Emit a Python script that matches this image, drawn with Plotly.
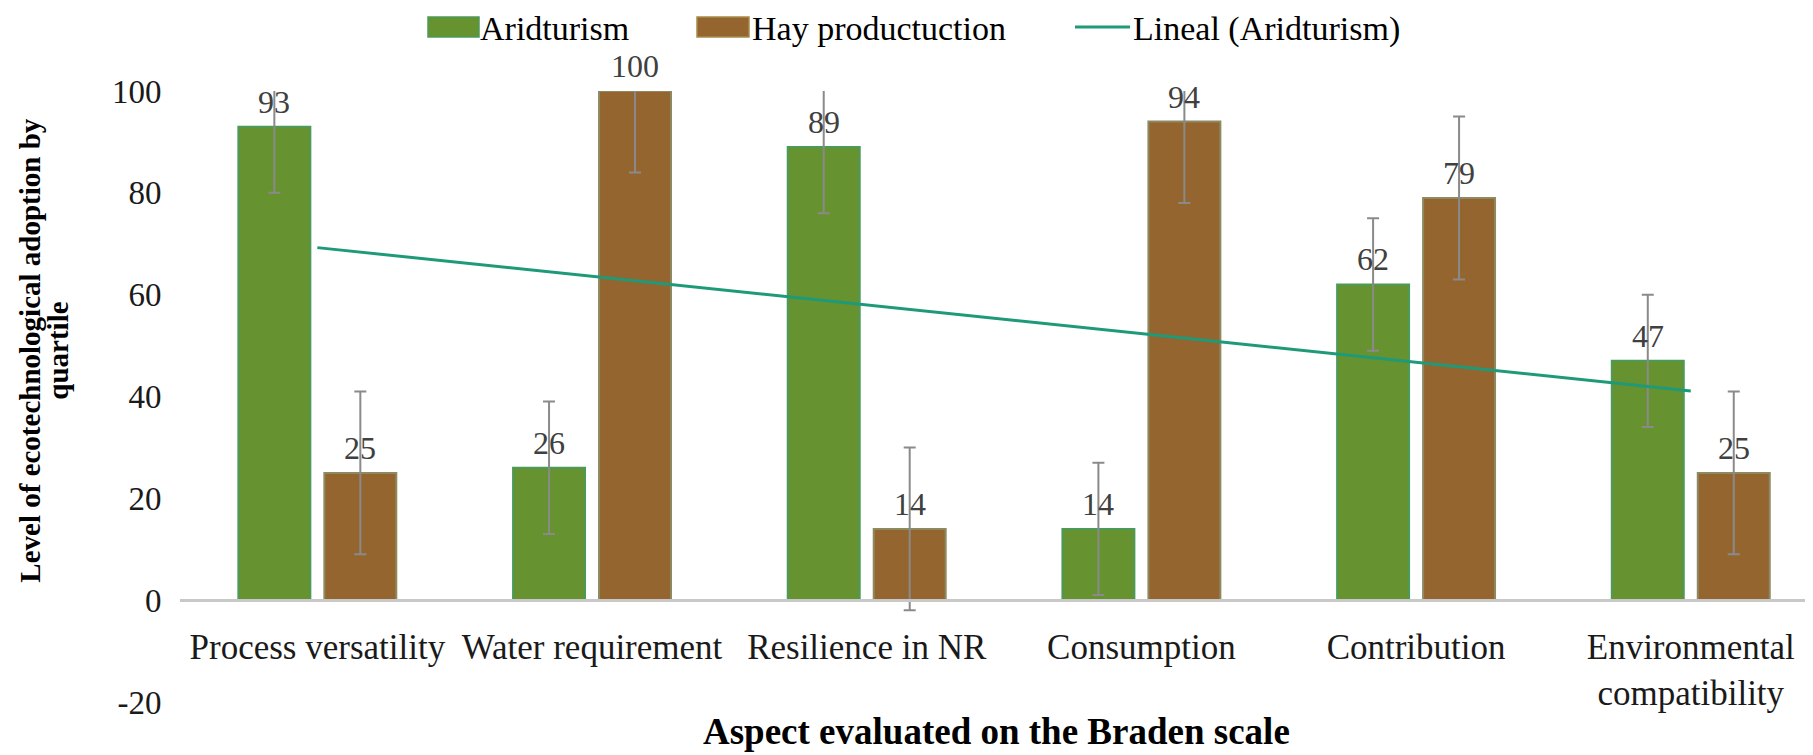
import numpy as np
import plotly.graph_objects as go

# ---------------- data ----------------
categories = ["Process versatility", "Water requirement", "Resilience in NR",
              "Consumption", "Contribution", "Environmental<br>compatibility"]
aridturism = [93, 26, 89, 14, 62, 47]
hay_production = [25, 100, 14, 94, 79, 25]
aridturism_err = [13, 13, 13, 13, 13, 13]
hay_err = [16, 16, 16, 16, 16, 16]
y_ticks = [-20, 0, 20, 40, 60, 80, 100]
y_ticktext = ["-20", "0", "20", "40", "60", "80", "100"]
y_range = [-20, 100]
series_names = ["Aridturism", "Hay productuction", "Lineal (Aridturism)"]

# ---------------- styling ----------------
FONT = "Liberation Serif"
GREEN = "#66922f"
GREEN_EDGE = "#4c9a5a"
BROWN = "#95652f"
BROWN_EDGE = "#8d8a62"
BROWN_OUT = "#a88a4a"
ERR = "#8a8a8a"
TREND = "#1e9a78"

PAGE_OFF = 8                      # default body margin of the html page
W, H = 1813 - PAGE_OFF, 755 - PAGE_OFF
ML, MR, MT, MB = 172, 0, 83, 53
PW, PH = W - ML - MR, H - MT - MB


def px_x(px):  # window pixel -> paper x (layout helper for legend)
    return (px - PAGE_OFF - ML) / PW


def px_y(py):  # window pixel -> paper y
    return (H - MB - (py - PAGE_OFF)) / PH


idx = list(range(len(categories)))
bar_w = 0.262
bar_gap = 0.051
off_a = -(bar_w + bar_gap / 2)
off_h = bar_gap / 2

fig = go.Figure()

fig.add_trace(go.Bar(
    x=idx, y=aridturism, name=series_names[0],
    width=bar_w, offset=off_a,
    marker=dict(color=GREEN, line=dict(color=GREEN_EDGE, width=2)),
    error_y=dict(type="data", array=aridturism_err, visible=True,
                 color=ERR, thickness=2, width=6),
    showlegend=False,
))
fig.add_trace(go.Bar(
    x=idx, y=hay_production, name=series_names[1],
    width=bar_w, offset=off_h,
    marker=dict(color=BROWN, line=dict(color=BROWN_EDGE, width=2)),
    error_y=dict(type="data", array=hay_err, visible=True,
                 color=ERR, thickness=2, width=6),
    showlegend=False,
))

# linear trendline of Aridturism (as Excel's "Lineal" trendline)
slope, intercept = np.polyfit(idx, aridturism, 1)
trend = [slope * i + intercept for i in idx]
fig.add_trace(go.Scatter(
    x=idx, y=trend, mode="lines", name=series_names[2],
    line=dict(color=TREND, width=3), showlegend=False,
))

# data labels
annotations = []
LABEL_SHIFT = 25
for i, v in zip(idx, aridturism):
    annotations.append(dict(x=i + off_a + bar_w / 2, y=v, text=str(v), showarrow=False,
                            yshift=LABEL_SHIFT, xref="x", yref="y",
                            font=dict(family=FONT, size=32, color="#404040")))
for i, v in zip(idx, hay_production):
    annotations.append(dict(x=i + off_h + bar_w / 2, y=v, text=str(v), showarrow=False,
                            yshift=LABEL_SHIFT, xref="x", yref="y",
                            font=dict(family=FONT, size=32, color="#404040")))

# axis titles
annotations.append(dict(x=0, y=0.575, xref="paper", yref="paper", xshift=-150,
                        text="<b>Level of ecotechnological adoption by</b>", textangle=-90,
                        showarrow=False, xanchor="center", yanchor="middle",
                        font=dict(family=FONT, size=29, color="#000000")))
annotations.append(dict(x=0, y=0.575, xref="paper", yref="paper", xshift=-122,
                        text="<b>quartile</b>", textangle=-90,
                        showarrow=False, xanchor="center", yanchor="middle",
                        font=dict(family=FONT, size=29, color="#000000")))
annotations.append(dict(x=0.5, y=0, xref="paper", yref="paper", yshift=-52,
                        text="<b>Aspect evaluated on the Braden scale</b>",
                        showarrow=False, xanchor="center", yanchor="bottom",
                        font=dict(family=FONT, size=37, color="#000000")))

# legend (drawn like the Excel legend: wide swatches)
shapes = []
leg_y0, leg_y1, leg_yc = px_y(37), px_y(17), px_y(27)
shapes.append(dict(type="rect", xref="paper", yref="paper",
                   x0=px_x(428), x1=px_x(479), y0=leg_y0, y1=leg_y1,
                   fillcolor=GREEN, line=dict(color=GREEN_EDGE, width=1.5)))
shapes.append(dict(type="rect", xref="paper", yref="paper",
                   x0=px_x(697), x1=px_x(749), y0=leg_y0, y1=leg_y1,
                   fillcolor=BROWN, line=dict(color=BROWN_OUT, width=1.5)))
shapes.append(dict(type="line", xref="paper", yref="paper",
                   x0=px_x(1075), x1=px_x(1130), y0=leg_yc, y1=leg_yc,
                   line=dict(color=TREND, width=3)))
leg_text_top = px_y(PAGE_OFF)
for name, xpix in zip(series_names, [478, 750, 1131]):
    annotations.append(dict(x=px_x(xpix), y=leg_text_top, xref="paper", yref="paper",
                            text=name, showarrow=False, xanchor="left", yanchor="top",
                            font=dict(family=FONT, size=34, color="#000000")))

x_pos = (0 - y_range[0]) / (y_range[1] - y_range[0])

fig.update_layout(
    width=W, height=H,
    margin=dict(l=ML, r=MR, t=MT, b=MB, autoexpand=False),
    paper_bgcolor="white", plot_bgcolor="white",
    barmode="overlay",
    font=dict(family=FONT, size=33, color="#262626"),
    annotations=annotations,
    shapes=shapes,
    showlegend=False,
    xaxis=dict(
        range=[-0.5, 5.445], tickvals=idx, ticktext=categories,
        anchor="free", position=x_pos, automargin=False,
        showline=True, linecolor="#c8c8c8", linewidth=3,
        showgrid=False, zeroline=False,
        ticks="outside", ticklen=15, tickcolor="rgba(0,0,0,0)",
        tickfont=dict(family=FONT, size=35, color="#1a1a1a"),
    ),
    yaxis=dict(
        range=y_range, tickvals=y_ticks, ticktext=y_ticktext, automargin=False,
        showgrid=False, zeroline=False, showline=False,
        ticks="outside", ticklen=11, tickcolor="rgba(0,0,0,0)",
        tickfont=dict(family=FONT, size=33, color="#1a1a1a"),
    ),
)

fig.write_html("out.html")
